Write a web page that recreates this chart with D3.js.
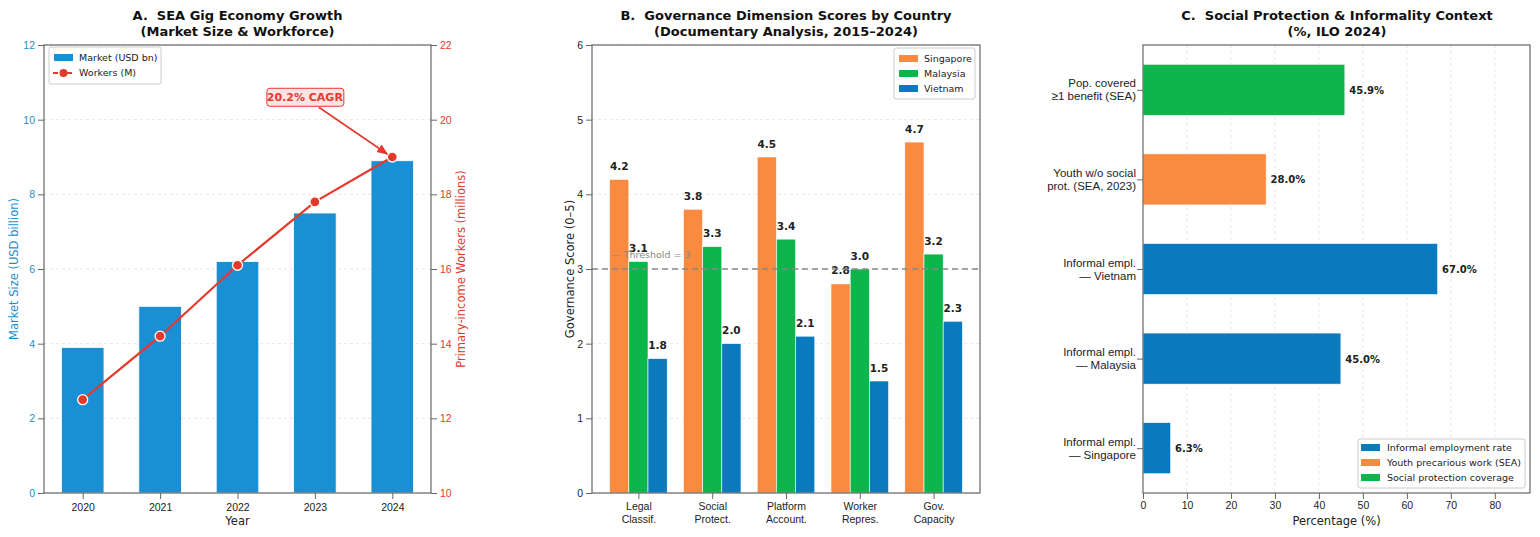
<!DOCTYPE html>
<html>
<head>
<meta charset="utf-8">
<script src="https://cdn.jsdelivr.net/npm/d3@7"></script>
<style>
  body { margin: 0; background: #fff; }
  svg { font-family: "DejaVu Sans", sans-serif; display: block; }
  .tick text { font-size: 10.5px; fill: #222; }
  .domain { stroke: #666; }
  .tick line { stroke: #666; }
</style>
</head>
<body>
<div id="chart"></div>
<script>
// Panel A data
const years = ["2020", "2021", "2022", "2023", "2024"];
const marketSize = [3.9, 5.0, 6.2, 7.5, 8.9];
const workers = [12.5, 14.2, 16.1, 17.8, 19.0];

// Panel B data
const dimensions = ["Legal\nClassif.", "Social\nProtect.", "Platform\nAccount.", "Worker\nRepres.", "Gov.\nCapacity"];
const countries = ["Singapore", "Malaysia", "Vietnam"];
const scoreSingapore = [4.2, 3.8, 4.5, 2.8, 4.7];
const scoreMalaysia = [3.1, 3.3, 3.4, 3.0, 3.2];
const scoreVietnam = [1.8, 2.0, 2.1, 1.5, 2.3];
const threshold = 3;

// Panel C data (bottom to top)
const contextLabels = [
  "Informal empl.\n— Singapore",
  "Informal empl.\n— Malaysia",
  "Informal empl.\n— Vietnam",
  "Youth w/o social\nprot. (SEA, 2023)",
  "Pop. covered\n≥1 benefit (SEA)"
];
const contextValues = [6.3, 45.0, 67.0, 28.0, 45.9];
const contextGroup = ["informal", "informal", "informal", "youth", "coverage"];
const contextLegend = ["Informal employment rate", "Youth precarious work (SEA)", "Social protection coverage"];

const BLUE_A = "#1b8fd3";
const RED_A = "#e5392c";
const ORANGE = "#f98a3f";
const GREEN = "#0cb64b";
const BLUE = "#0b79bd";

const svg = d3.select("#chart").append("svg")
  .attr("width", 1540).attr("height", 537);

const plotTop = 45, plotBottom = 493;

function title(cx, l1, l2) {
  const t = svg.append("text").attr("text-anchor", "middle").style("white-space", "pre")
    .attr("font-weight", "bold").attr("font-size", "13px").attr("fill", "#111");
  t.append("tspan").attr("x", cx).attr("y", 20).text(l1);
  t.append("tspan").attr("x", cx).attr("y", 36).text(l2);
}

function frame(x0, x1) {
  svg.append("rect").attr("x", x0).attr("y", plotTop)
    .attr("width", x1 - x0).attr("height", plotBottom - plotTop)
    .attr("fill", "none").attr("stroke", "#666").attr("stroke-width", 1.2);
}

function multiline(sel, lines, lh) {
  lines.forEach((l, i) => sel.append("tspan").attr("x", 0).attr("dy", i === 0 ? 0 : lh).text(l));
}

// ---------------- Panel A ----------------
(function () {
  const x0 = 44, x1 = 431;
  const idx = years.map((d, i) => i);
  const x = d3.scaleLinear().domain([-0.5, 4.5]).range([x0, x1]);
  const yL = d3.scaleLinear().domain([0, 12]).range([plotBottom, plotTop]);
  const yR = d3.scaleLinear().domain([10, 22]).range([plotBottom, plotTop]);

  // grid
  svg.append("g").selectAll("line").data(yL.ticks(6)).join("line")
    .attr("x1", x0).attr("x2", x1).attr("y1", d => yL(d)).attr("y2", d => yL(d))
    .attr("stroke", "#ddd").attr("stroke-dasharray", "3,3").attr("stroke-width", 0.7);

  const bw = 0.55;
  svg.append("g").selectAll("rect").data(marketSize).join("rect")
    .attr("x", (d, i) => x(i - bw / 2)).attr("width", x(bw) - x(0))
    .attr("y", d => yL(d)).attr("height", d => plotBottom - yL(d))
    .attr("fill", BLUE_A).attr("stroke", "#fff").attr("stroke-width", 0.8);

  const line = d3.line().x((d, i) => x(i)).y(d => yR(d));
  svg.append("path").datum(workers).attr("d", line)
    .attr("fill", "none").attr("stroke", RED_A).attr("stroke-width", 2.2);
  svg.append("g").selectAll("circle").data(workers).join("circle")
    .attr("cx", (d, i) => x(i)).attr("cy", d => yR(d)).attr("r", 5)
    .attr("fill", RED_A).attr("stroke", "#fff").attr("stroke-width", 1.3);

  frame(x0, x1);

  const xa = svg.append("g").attr("transform", `translate(0,${plotBottom})`)
    .call(d3.axisBottom(x).tickValues(idx).tickFormat(i => years[i]).tickSizeOuter(0));
  xa.select(".domain").remove();
  xa.selectAll("text").attr("dy", "0.9em");
  const la = svg.append("g").attr("transform", `translate(${x0},0)`)
    .call(d3.axisLeft(yL).ticks(6).tickSizeOuter(0));
  la.select(".domain").remove();
  la.selectAll(".tick text").style("fill", BLUE_A);
  la.selectAll(".tick line").attr("stroke", BLUE_A);
  const ra = svg.append("g").attr("transform", `translate(${x1},0)`)
    .call(d3.axisRight(yR).ticks(6).tickSizeOuter(0));
  ra.select(".domain").remove();
  ra.selectAll(".tick text").style("fill", RED_A);
  ra.selectAll(".tick line").attr("stroke", RED_A);

  svg.append("text").attr("x", (x0 + x1) / 2).attr("y", 525).attr("text-anchor", "middle")
    .attr("font-size", "11.5px").attr("fill", "#222").text("Year");
  svg.append("text").attr("transform", `translate(18,${(plotTop + plotBottom) / 2}) rotate(-90)`)
    .attr("text-anchor", "middle").attr("font-size", "11.5px").attr("fill", BLUE_A)
    .text("Market Size (USD billion)");
  svg.append("text").attr("transform", `translate(465,${(plotTop + plotBottom) / 2}) rotate(-90)`)
    .attr("text-anchor", "middle").attr("font-size", "11.5px").attr("fill", RED_A)
    .text("Primary-income Workers (millions)");

  // CAGR annotation
  const ax = x(2.87), ay = yR(20.6);
  svg.append("defs").append("marker").attr("id", "arr")
    .attr("viewBox", "0 0 10 10").attr("refX", 9).attr("refY", 5)
    .attr("markerWidth", 7).attr("markerHeight", 7).attr("orient", "auto")
    .append("path").attr("d", "M0,1 L10,5 L0,9 z").attr("fill", RED_A);
  svg.append("line").attr("x1", ax + 14).attr("y1", ay + 10)
    .attr("x2", x(4) - 5).attr("y2", yR(workers[4]) - 3)
    .attr("stroke", RED_A).attr("stroke-width", 1.6).attr("marker-end", "url(#arr)");
  svg.append("rect").attr("x", ax - 38).attr("y", ay - 9).attr("width", 77).attr("height", 18)
    .attr("rx", 3).attr("fill", "#fde3e1").attr("stroke", RED_A).attr("stroke-width", 1);
  svg.append("text").attr("x", ax).attr("y", ay + 4).attr("text-anchor", "middle")
    .attr("font-size", "11px").attr("font-weight", "bold").attr("fill", RED_A).text("20.2% CAGR");

  // legend
  const lg = svg.append("g").attr("transform", "translate(49,47)");
  lg.append("rect").attr("width", 112).attr("height", 37).attr("rx", 2)
    .attr("fill", "#fff").attr("stroke", "#ccc");
  lg.append("rect").attr("x", 5).attr("y", 7).attr("width", 19).attr("height", 7).attr("fill", BLUE_A);
  lg.append("text").attr("x", 30).attr("y", 14).attr("font-size", "9.5px").attr("fill", "#222").text("Market (USD bn)");
  lg.append("line").attr("x1", 4).attr("x2", 25).attr("y1", 26).attr("y2", 26)
    .attr("stroke", RED_A).attr("stroke-width", 2.2).attr("stroke-dasharray", "5,2");
  lg.append("circle").attr("cx", 14.5).attr("cy", 26).attr("r", 4).attr("fill", RED_A);
  lg.append("text").attr("x", 30).attr("y", 29).attr("font-size", "9.5px").attr("fill", "#222").text("Workers (M)");

  title((x0 + x1) / 2, "A.  SEA Gig Economy Growth", "(Market Size & Workforce)");
})();

// ---------------- Panel B ----------------
(function () {
  const x0 = 592, x1 = 980;
  const x = d3.scaleLinear().domain([-0.629, 4.629]).range([x0, x1]);
  const y = d3.scaleLinear().domain([0, 6]).range([plotBottom, plotTop]);
  const series = [scoreSingapore, scoreMalaysia, scoreVietnam];
  const colors = [ORANGE, GREEN, BLUE];
  const bw = 0.26;

  svg.append("g").selectAll("line").data(y.ticks(6)).join("line")
    .attr("x1", x0).attr("x2", x1).attr("y1", d => y(d)).attr("y2", d => y(d))
    .attr("stroke", "#ddd").attr("stroke-dasharray", "3,3").attr("stroke-width", 0.7);

  series.forEach((vals, s) => {
    const off = (s - 1) * bw;
    svg.append("g").selectAll("rect").data(vals).join("rect")
      .attr("x", (d, i) => x(i + off - bw / 2)).attr("width", x(bw) - x(0))
      .attr("y", d => y(d)).attr("height", d => plotBottom - y(d))
      .attr("fill", colors[s]).attr("stroke", "#fff").attr("stroke-width", 0.6);
    svg.append("g").selectAll("text").data(vals).join("text")
      .attr("x", (d, i) => x(i + off)).attr("y", d => y(d + 0.1) - 2)
      .attr("text-anchor", "middle").attr("font-size", "10.5px").attr("font-weight", "bold")
      .attr("fill", "#222").text(d => d.toFixed(1));
  });

  svg.append("line").attr("x1", x0).attr("x2", x1).attr("y1", y(threshold)).attr("y2", y(threshold))
    .attr("stroke", "#888").attr("stroke-width", 1.4).attr("stroke-dasharray", "6,4");
  svg.append("text").attr("x", x(-0.37)).attr("y", y(threshold + 0.15)).attr("font-size", "9.5px")
    .attr("fill", "#888").text("— Threshold = 3");

  frame(x0, x1);

  const xa = svg.append("g").attr("transform", `translate(0,${plotBottom})`)
    .call(d3.axisBottom(x).tickValues(d3.range(5)).tickFormat("").tickSizeOuter(0));
  xa.select(".domain").remove();
  xa.selectAll(".tick").append("text").attr("y", 17).attr("text-anchor", "middle")
    .attr("fill", "#222")
    .each(function (i) { multiline(d3.select(this), dimensions[i].split("\n"), 12.5); });
  const ya = svg.append("g").attr("transform", `translate(${x0},0)`)
    .call(d3.axisLeft(y).ticks(6).tickSizeOuter(0));
  ya.select(".domain").remove();

  svg.append("text").attr("transform", `translate(574,${(plotTop + plotBottom) / 2}) rotate(-90)`)
    .attr("text-anchor", "middle").attr("font-size", "11.5px").attr("fill", "#222")
    .text("Governance Score (0–5)");

  const lg = svg.append("g").attr("transform", "translate(894,48)");
  lg.append("rect").attr("width", 81).attr("height", 51).attr("rx", 2)
    .attr("fill", "#fff").attr("stroke", "#ccc");
  countries.forEach((c, i) => {
    lg.append("rect").attr("x", 5).attr("y", 7 + i * 15).attr("width", 19).attr("height", 7).attr("fill", colors[i]);
    lg.append("text").attr("x", 30).attr("y", 14 + i * 15).attr("font-size", "9.5px").attr("fill", "#222").text(c);
  });

  title((x0 + x1) / 2, "B.  Governance Dimension Scores by Country", "(Documentary Analysis, 2015–2024)");
})();

// ---------------- Panel C ----------------
(function () {
  const x0 = 1143, x1 = 1530;
  const x = d3.scaleLinear().domain([0, 88]).range([x0, x1]);
  const y = d3.scaleLinear().domain([-0.5, 4.5]).range([plotBottom, plotTop]);
  const color = d3.scaleOrdinal().domain(["informal", "youth", "coverage"]).range([BLUE, ORANGE, GREEN]);
  const bh = 0.57;

  svg.append("g").selectAll("line").data(d3.range(10, 90, 10)).join("line")
    .attr("x1", d => x(d)).attr("x2", d => x(d)).attr("y1", plotTop).attr("y2", plotBottom)
    .attr("stroke", "#ddd").attr("stroke-dasharray", "3,3").attr("stroke-width", 0.7);

  svg.append("g").selectAll("rect").data(contextValues).join("rect")
    .attr("x", x0).attr("width", d => x(d) - x0)
    .attr("y", (d, i) => y(i + bh / 2)).attr("height", y(0) - y(bh))
    .attr("fill", (d, i) => color(contextGroup[i])).attr("stroke", "#fff").attr("stroke-width", 0.6);
  svg.append("g").selectAll("text").data(contextValues).join("text")
    .attr("x", d => x(d + 1)).attr("y", (d, i) => y(i) + 4)
    .attr("font-size", "10px").attr("font-weight", "bold").attr("fill", "#222")
    .text(d => d.toFixed(1) + "%");

  frame(x0, x1);

  const xa = svg.append("g").attr("transform", `translate(0,${plotBottom})`)
    .call(d3.axisBottom(x).tickValues(d3.range(0, 90, 10)).tickSizeOuter(0));
  xa.select(".domain").remove();
  const ya = svg.append("g").attr("transform", `translate(${x0},0)`)
    .call(d3.axisLeft(y).tickValues(d3.range(5)).tickFormat("").tickSizeOuter(0));
  ya.select(".domain").remove();
  ya.selectAll(".tick").append("text").attr("x", -7).attr("text-anchor", "end")
    .style("font-size", "11.5px").attr("fill", "#222")
    .each(function (i) {
      const t = d3.select(this);
      t.attr("y", -3);
      contextLabels[i].split("\n").forEach((l, k) =>
        t.append("tspan").attr("x", -7).attr("dy", k === 0 ? 0 : 13).text(l));
    });

  svg.append("text").attr("x", (x0 + x1) / 2).attr("y", 525).attr("text-anchor", "middle")
    .attr("font-size", "11.5px").attr("fill", "#222").text("Percentage (%)");

  const lg = svg.append("g").attr("transform", "translate(1358,439)");
  lg.append("rect").attr("width", 167).attr("height", 49).attr("rx", 2)
    .attr("fill", "#fff").attr("stroke", "#ccc");
  contextLegend.forEach((c, i) => {
    lg.append("rect").attr("x", 3).attr("y", 5 + i * 15).attr("width", 19).attr("height", 7)
      .attr("fill", [BLUE, ORANGE, GREEN][i]);
    lg.append("text").attr("x", 29).attr("y", 12 + i * 15).attr("font-size", "9.5px").attr("fill", "#222").text(c);
  });

  title(1337, "C.  Social Protection & Informality Context", "(%, ILO 2024)");
})();
</script>
</body>
</html>
